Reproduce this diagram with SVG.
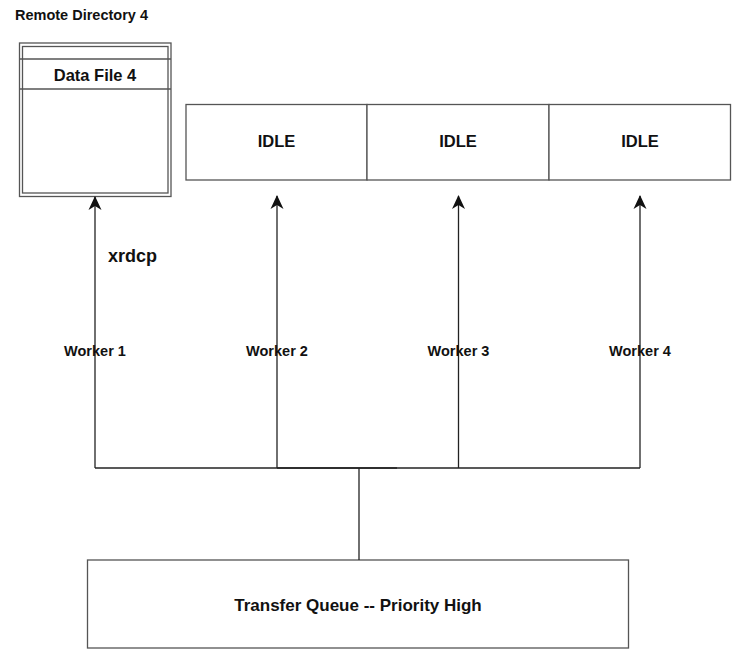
<svg xmlns="http://www.w3.org/2000/svg" width="732" height="650" viewBox="0 0 732 650">
<style>
text{font-family:"Liberation Sans",Arial,sans-serif;font-weight:bold;fill:#111;}
.box{fill:#fff;stroke:#555;stroke-width:1.3;}
.conn{fill:none;stroke:#222;stroke-width:1.3;}
</style>
<defs>
<marker id="arr" viewBox="0 0 14 14" refX="13" refY="7" markerWidth="14" markerHeight="14" markerUnits="userSpaceOnUse" orient="auto">
<path d="M0,0.5 L14,7 L0,13.5 L4,7 Z" fill="#111"/>
</marker>
</defs>
<rect width="732" height="650" fill="#fff"/>
<text x="15" y="19.5" font-size="14.5">Remote Directory 4</text>
<g id="remote-dir">
<rect class="box" x="19.5" y="43" width="151.5" height="153.5" stroke-width="1.6"/>
<rect class="box" x="22.5" y="46.5" width="145.5" height="146.5"/>
<line class="box" x1="19.5" y1="59" x2="171" y2="59"/>
<line class="box" x1="19.5" y1="89" x2="171" y2="89"/>
<text x="95" y="80.5" font-size="16.5" text-anchor="middle">Data File 4</text>
</g>
<g id="idle1">
<rect class="box" x="186" y="104.5" width="181" height="75.5"/>
<text x="276.5" y="147" font-size="16.5" text-anchor="middle">IDLE</text>
</g>
<g id="idle2">
<rect class="box" x="367" y="104.5" width="182" height="75.5"/>
<text x="458" y="147" font-size="16.5" text-anchor="middle">IDLE</text>
</g>
<g id="idle3">
<rect class="box" x="549" y="104.5" width="181.5" height="75.5"/>
<text x="640" y="147" font-size="16.5" text-anchor="middle">IDLE</text>
</g>
<g id="queue">
<rect class="box" x="87.5" y="560" width="541" height="88"/>
<text x="358" y="611" font-size="17" text-anchor="middle">Transfer Queue -- Priority High</text>
</g>
<g id="connectors">
<line class="conn" x1="359" y1="560" x2="359" y2="468"/>
<line class="conn" x1="95" y1="468" x2="640" y2="468" stroke="#555"/>
<line class="conn" x1="277" y1="468" x2="397" y2="468"/>
<line class="conn" x1="95" y1="468" x2="95" y2="197" marker-end="url(#arr)"/>
<line class="conn" x1="277" y1="468" x2="277" y2="196" marker-end="url(#arr)"/>
<line class="conn" x1="458.5" y1="468" x2="458.5" y2="196" marker-end="url(#arr)"/>
<line class="conn" x1="640" y1="468" x2="640" y2="196" marker-end="url(#arr)"/>
<text x="108" y="262" font-size="18" text-anchor="start">xrdcp</text>
<text x="95" y="355.5" font-size="14.5" text-anchor="middle">Worker 1</text>
<text x="277" y="355.5" font-size="14.5" text-anchor="middle">Worker 2</text>
<text x="458.5" y="355.5" font-size="14.5" text-anchor="middle">Worker 3</text>
<text x="640" y="355.5" font-size="14.5" text-anchor="middle">Worker 4</text>
</g>
</svg>
